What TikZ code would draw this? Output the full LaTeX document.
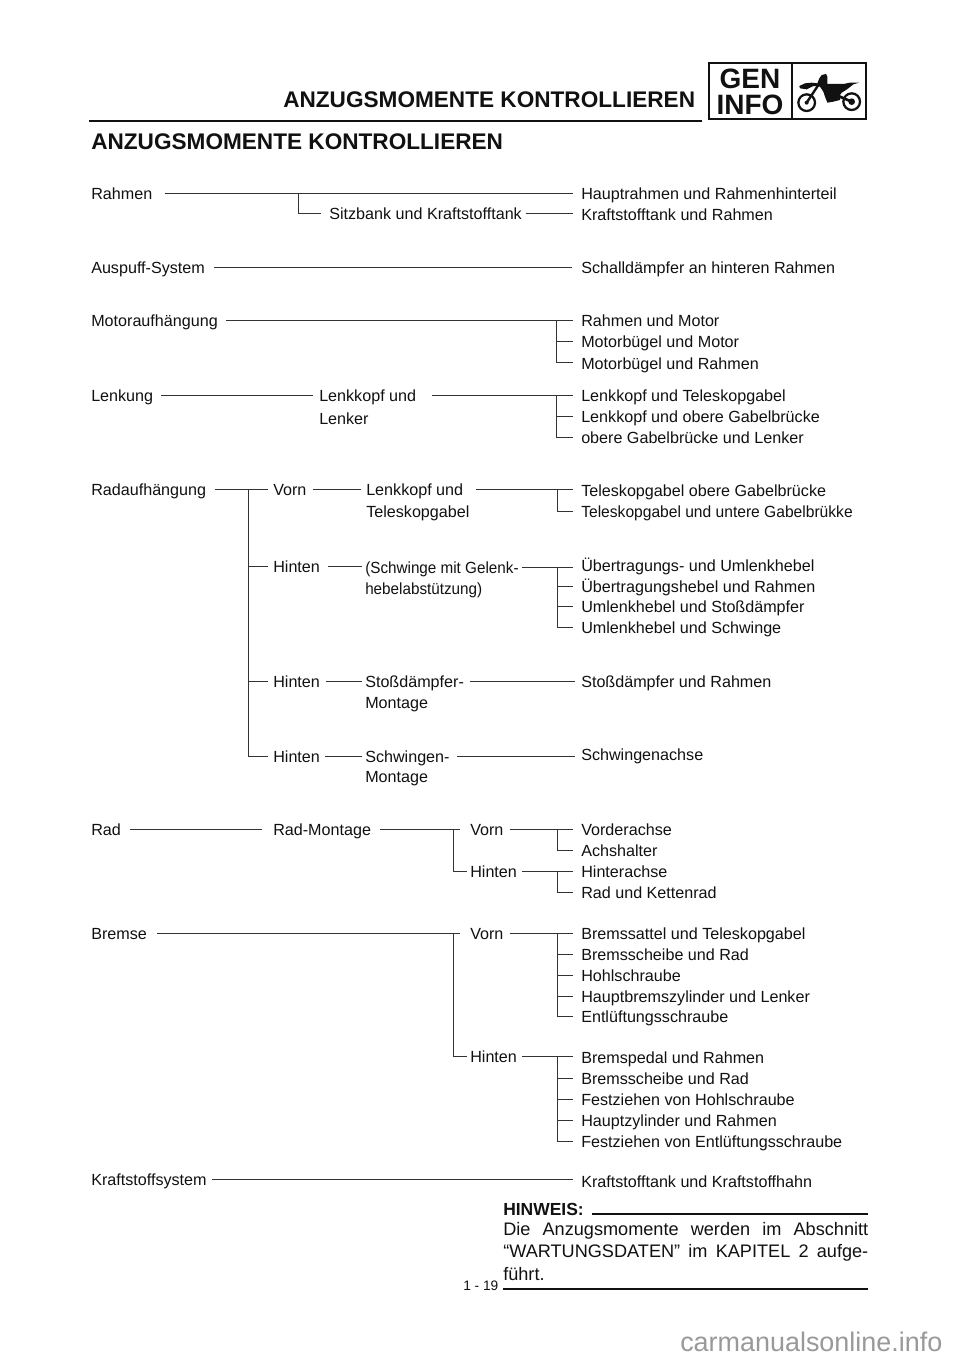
\documentclass[tikz,border=0pt]{standalone}
\usepackage{fontspec}
\setmainfont{Liberation Sans}
\definecolor{ink}{HTML}{111111}
\definecolor{wire}{HTML}{333333}
\definecolor{mark}{HTML}{999999}
\newcommand{\lft}[4]{\node[lbl] (#1) at (#2,#3) {#4};}
\newcommand{\cnn}[4]{\draw[conn,shorten <=#2*0.75pt,shorten >=#4*0.75pt] (#1.east) -- (#1.east -| #3.west);}
\newcommand{\brn}[2]{\draw[conn,shorten >=8*0.75pt] (#1) |- (#2.west);}
\begin{document}
\begin{tikzpicture}[x=0.75pt,y=-0.75pt,
  lbl/.style={anchor=west,inner sep=0pt,text height=9pt,text depth=0pt,font=\fontsize{12.1pt}{14pt}\selectfont,text=ink},
  conn/.style={draw=wire,line width=0.75pt},
  rule/.style={draw=ink,line width=2.2pt},
  head/.style={anchor=west,inner sep=0pt,font=\fontsize{16.95pt}{18pt}\selectfont\bfseries,text=ink},
  badge/.style={inner sep=0pt,align=center,font=\fontsize{21pt}{19.6pt}\selectfont\bfseries,text=ink},
  note/.style={anchor=base west,inner sep=0pt,font=\fontsize{13.6pt}{16pt}\selectfont,text=ink}]
\useasboundingbox[fill=white] (0,0) rectangle (960,1358);
% header
\node[head] (top) at (283,100) {ANZUGSMOMENTE KONTROLLIEREN};
\node[head] (title) at (91,142) {ANZUGSMOMENTE KONTROLLIEREN};
\coordinate (ruleA) at (89,121); \coordinate (ruleB) at (702,121);
\draw[rule] (ruleA) -- (ruleB);
\draw[draw=ink,line width=2.2pt] (709,63) rectangle (866,119) (792,63) -- (792,119);
\node[badge] (gen) at (750,92) {GEN\\INFO};
% motorcycle
\begin{scope}[shift={(790,60)},x=0.25pt,y=-0.25pt]
\fill[ink] (28,78) -- (45,70) -- (65,68) -- (82,70) -- (88,55) -- (95,45) -- (108,42) -- (112,50) -- (112,72) -- (135,72) -- (160,72) -- (180,68) -- (207,68) -- (190,73) -- (175,85) -- (165,92) -- (155,98) -- (150,105) -- (150,120) -- (130,125) -- (112,128) -- (105,110) -- (100,95) -- (90,80) -- (70,78) -- (50,88) -- (30,85) -- cycle;
\draw[ink,line width=1.7pt] (50,128) circle (25);
\draw[ink,line width=1.7pt] (185,125) circle (25);
\fill[ink] (50,128) circle (6);
\fill[ink] (185,125) circle (10);
\draw[ink,line width=1.8pt] (50,128) -- (85,75);
\draw[ink,line width=2pt] (185,125) -- (145,108);
\end{scope}
% Rahmen
\lft{rahmen}{91}{194}{Rahmen}
\lft{haupt}{581}{194}{Hauptrahmen und Rahmenhinterteil}
\lft{sitz}{329}{214}{Sitzbank und Kraftstofftank}
\lft{ktr}{581}{214.5}{Kraftstofftank und Rahmen}
\cnn{rahmen}{12}{haupt}{8}
\cnn{sitz}{4}{ktr}{8}
\coordinate (jr) at (298,194);
\brn{jr}{sitz}
% Auspuff
\lft{ausp}{91}{268}{Auspuff-System}
\lft{schall}{581}{268}{Schalldämpfer an hinteren Rahmen}
\cnn{ausp}{9}{schall}{9}
% Motor
\lft{motor}{91}{321}{Motoraufhängung}
\lft{mo}{581}{321}{Rahmen und Motor}
\lft{mb}{581}{342}{Motorbügel und Motor}
\lft{mr}{581}{363}{Motorbügel und Rahmen}
\cnn{motor}{8}{mo}{8}
\coordinate (jm) at (556,321);
\brn{jm}{mb}
\brn{jm}{mr}
% Lenkung
\lft{lenkung}{91}{395}{Lenkung}
\lft{lku}{319}{395}{Lenkkopf und}
\lft{lnk}{319}{418}{Lenker}
\lft{lt}{581}{395.5}{Lenkkopf und Teleskopgabel}
\lft{lo}{581}{416.5}{Lenkkopf und obere Gabelbrücke}
\lft{ol}{581}{437.5}{obere Gabelbrücke und Lenker}
\cnn{lenkung}{8}{lku}{6}
\cnn{lku}{16}{lt}{8}
\coordinate (jl) at (556,395);
\brn{jl}{lo}
\brn{jl}{ol}
% Radaufhaengung
\lft{radauf}{91}{489.5}{Radaufhängung}
\lft{vorn}{273}{489.5}{Vorn}
\lft{hi}{273}{566.5}{Hinten}
\lft{hs}{273}{681}{Hinten}
\lft{hm}{273}{756}{Hinten}
\cnn{radauf}{9}{vorn}{5}
\coordinate (jv) at (248,490);
\draw[conn,shorten >=5*0.75pt] (jv) |- (hi.west);
\draw[conn,shorten >=5*0.75pt] (jv) |- (hs.west);
\draw[conn,shorten >=5*0.75pt] (jv) |- (hm.west);
\lft{lk}{366}{489.5}{Lenkkopf und}
\lft{tg}{366}{511.5}{Teleskopgabel}
\lft{too}{581}{490.5}{Teleskopgabel obere Gabelbrücke}
\lft{tun}{581}{511.5}{\scalebox{0.967}[1]{Teleskopgabel und untere Gabelbrükke}}
\cnn{vorn}{6}{lk}{5}
\cnn{lk}{13}{too}{8}
\coordinate (jt) at (557,490);
\brn{jt}{tun}
\lft{sg}{365}{567}{\scalebox{0.945}[1]{(Schwinge mit Gelenk-}}
\lft{ha}{365}{588}{\scalebox{0.945}[1]{hebelabstützung)}}
\lft{uu}{581}{565.5}{Übertragungs- und Umlenkhebel}
\lft{ur}{581}{586.5}{Übertragungshebel und Rahmen}
\lft{us}{581}{606.5}{Umlenkhebel und Stoßdämpfer}
\lft{usw}{581}{627.5}{Umlenkhebel und Schwinge}
\cnn{hi}{8}{sg}{3}
\cnn{sg}{3}{uu}{8}
\coordinate (ju) at (557,567);
\brn{ju}{ur}
\brn{ju}{us}
\brn{ju}{usw}
\lft{st}{365}{681}{Stoßdämpfer-}
\lft{sm}{365}{702}{Montage}
\lft{sr}{581}{681}{Stoßdämpfer und Rahmen}
\cnn{hs}{6}{st}{3}
\cnn{st}{6}{sr}{6}
\lft{sw}{365}{756}{Schwingen-}
\lft{swm}{365}{776}{Montage}
\lft{swa}{581}{754}{Schwingenachse}
\cnn{hm}{5}{sw}{3}
\cnn{sw}{7}{swa}{6}
% Rad
\lft{rad}{91}{829.5}{Rad}
\lft{rm}{273}{829.5}{Rad-Montage}
\lft{rv}{470}{829.5}{Vorn}
\lft{rh}{470}{871.5}{Hinten}
\lft{va}{581}{829.5}{Vorderachse}
\lft{ah}{581}{850.5}{Achshalter}
\lft{hia}{581}{871.5}{Hinterachse}
\lft{rk}{581}{892.5}{Rad und Kettenrad}
\cnn{rad}{9}{rm}{11}
\cnn{rm}{9}{rv}{10}
\cnn{rv}{6}{va}{8}
\cnn{rh}{5}{hia}{8}
\coordinate (jrr) at (453,830);
\draw[conn,shorten >=3*0.75pt] (jrr) |- (rh.west);
\coordinate (jra) at (557,830);
\brn{jra}{ah}
\coordinate (jrb) at (557,871.5);
\brn{jrb}{rk}
% Bremse
\lft{br}{91}{933.5}{Bremse}
\lft{bv}{470}{933.5}{Vorn}
\lft{bh}{470}{1056.5}{Hinten}
\lft{b1}{581}{933.5}{Bremssattel und Teleskopgabel}
\lft{b2}{581}{954}{Bremsscheibe und Rad}
\lft{b3}{581}{975}{Hohlschraube}
\lft{b4}{581}{996}{Hauptbremszylinder und Lenker}
\lft{b5}{581}{1016.5}{Entlüftungsschraube}
\lft{c1}{581}{1057}{Bremspedal und Rahmen}
\lft{c2}{581}{1078}{Bremsscheibe und Rad}
\lft{c3}{581}{1099}{Festziehen von Hohlschraube}
\lft{c4}{581}{1120}{Hauptzylinder und Rahmen}
\lft{c5}{581}{1141}{Festziehen von Entlüftungsschraube}
\cnn{br}{10}{bv}{10}
\cnn{bv}{6}{b1}{8}
\cnn{bh}{5}{c1}{8}
\coordinate (jb) at (453,934);
\draw[conn,shorten >=3*0.75pt] (jb) |- (bh.west);
\coordinate (jc) at (557,933.5);
\brn{jc}{b2}\brn{jc}{b3}\brn{jc}{b4}\brn{jc}{b5}
\coordinate (jd) at (557,1056.5);
\brn{jd}{c2}\brn{jd}{c3}\brn{jd}{c4}\brn{jd}{c5}
% Kraftstoff
\lft{ks}{91}{1179.5}{Kraftstoffsystem}
\lft{kh}{581}{1181}{Kraftstofftank und Kraftstoffhahn}
\cnn{ks}{5}{kh}{8}
% note
\node[anchor=base west,inner sep=0pt,font=\fontsize{13.1pt}{14pt}\selectfont\bfseries,text=ink] (hw) at (503,1215) {HINWEIS:};
\coordinate (nr) at (868,1214);
\coordinate (nl) at (592,1214);
\draw[rule] (nl) -- (nr);
\node[note] (t1) at (503,1235) {\hbox to 273.75pt{Die\hfill Anzugsmomente\hfill werden\hfill im\hfill Abschnitt}};
\node[note] (t2) at (503,1257.5) {\hbox to 273.75pt{“WARTUNGSDATEN”\hfill im\hfill KAPITEL\hfill 2\hfill aufge-}};
\node[note] (t3) at (503,1280) {führt.};
\node[anchor=base west,inner sep=0pt,font=\fontsize{10.3pt}{11pt}\selectfont,text=ink] (pg) at (463,1290) {1 - 19};
\coordinate (bl) at (503,1289); \coordinate (br2) at (868,1289);
\draw[rule] (bl) -- (br2);
\node[anchor=west,inner sep=0pt,font=\fontsize{20.2pt}{22pt}\selectfont,text=mark] (wm) at (680,1342) {carmanualsonline.info};
\end{tikzpicture}
\end{document}
